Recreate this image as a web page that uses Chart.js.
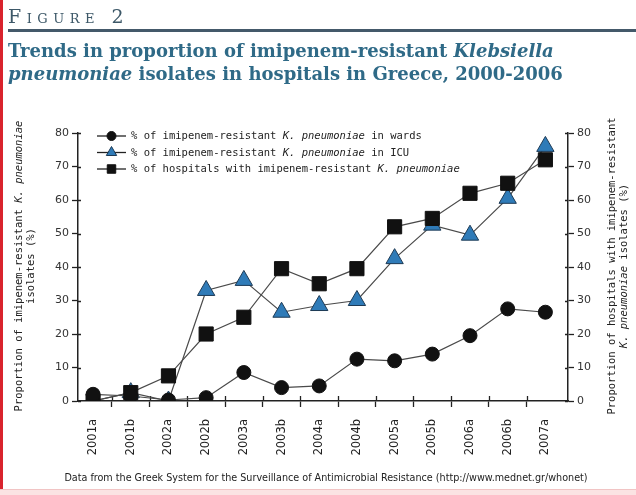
<!DOCTYPE html>
<html>
<head>
<meta charset="utf-8">
<script src="https://cdn.jsdelivr.net/npm/chart.js@4.4.0/dist/chart.umd.min.js"></script>
<style>
  html, body { margin: 0; padding: 0; background: #fff; }
  #page { position: relative; width: 636px; height: 495px; overflow: hidden; background: #fff; }
  #chart { position: absolute; left: 0; top: 0; }
  #redbar { position: absolute; left: 0; top: 0; width: 3px; height: 495px; background: #d9232d; }
  #band { position: absolute; left: 0; top: 489px; width: 636px; height: 6px; background: #fbe3e3; border-top: 1px solid #f1c4c4; }
  #fig { position: absolute; left: 8px; top: 5px; font-family: "DejaVu Serif", serif; font-size: 19px;
         font-variant: small-caps; letter-spacing: 5.5px; color: #3d5868; }
  #rule { position: absolute; left: 8px; right: 0; top: 29px; height: 3px; background: #44596a; }
  #title { position: absolute; left: 8px; top: 39px; font-family: "DejaVu Serif", serif; font-weight: bold;
           font-size: 18px; line-height: 23px; color: #2f6a87; white-space: nowrap; }
  #footer { position: absolute; left: 0; width: 652px; top: 471px; text-align: center;
            font-family: "DejaVu Sans Condensed", sans-serif; font-size: 10.7px; color: #222; }
</style>
</head>
<body>
<div id="page">
  <canvas id="chart" width="636" height="495"></canvas>
  <div id="redbar"></div>
  <div id="fig">Figure 2</div>
  <div id="rule"></div>
  <div id="title">Trends in proportion of imipenem-resistant <i>Klebsiella</i><br><i>pneumoniae</i> isolates in hospitals in Greece, 2000-2006</div>
  <div id="footer">Data from the Greek System for the Surveillance of Antimicrobial Resistance (http://www.mednet.gr/whonet)</div>
  <div id="band"></div>
</div>
<script>
// semesters
var periods = ["2001a", "2001b", "2002a", "2002b", "2003a", "2003b", "2004a",
               "2004b", "2005a", "2005b", "2006a", "2006b", "2007a"];
// % imipenem-resistant K. pneumoniae in wards
var wards = [2, 1.5, 0.3, 1, 8.5, 4, 4.5, 12.5, 12, 14, 19.5, 27.5, 26.5];
// % imipenem-resistant K. pneumoniae in ICU
var icu = [0, 2.5, 0, 33, 36, 26.5, 28.5, 30, 42.5, 52.5, 49.5, 60.5, 76];
// % of hospitals with imipenem-resistant K. pneumoniae
var hospitals = [0, 2.5, 7.5, 20, 25, 39.5, 35, 39.5, 52, 54.5, 62, 65, 72];
var yTicks = [0, 10, 20, 30, 40, 50, 60, 70, 80];

var AXIS = "#222";
var LINE = "#4a4a4a";
var BLUE = "#2f7bb8";
var MONO = '"DejaVu Sans Mono", monospace';

function pts(arr) {
    return arr.map(function(v, i) { return { x: i, y: v }; });
}

// ticks on both sides of the axis lines
var innerTicks = {
    id: "innerTicks",
    beforeDatasetsDraw: function(chart) {
        var ctx = chart.ctx, a = chart.chartArea, s = chart.scales;
        ctx.save();
        ctx.strokeStyle = AXIS;
        ctx.lineWidth = 1.3;
        ctx.beginPath();
        s.x.ticks.forEach(function(t) {
            if (Number.isInteger(t.value)) return;
            var px = Math.round(s.x.getPixelForValue(t.value)) + 0.5;
            ctx.moveTo(px, a.bottom);
            ctx.lineTo(px, a.bottom - 5);
        });
        s.y.ticks.forEach(function(t) {
            var py = Math.round(s.y.getPixelForValue(t.value)) + 0.5;
            ctx.moveTo(a.left, py);
            ctx.lineTo(a.left + 3, py);
            ctx.moveTo(a.right, py);
            ctx.lineTo(a.right - 3, py);
        });
        ctx.stroke();
        ctx.restore();
    }
};

// text made of plain and italic pieces
function pieces(ctx, parts, size) {
    return parts.map(function(p) {
        ctx.font = (p[1] ? "italic " : "") + size + "px " + MONO;
        return { text: p[0], font: ctx.font, w: ctx.measureText(p[0]).width };
    });
}
function drawParts(ctx, parts, size, x, y, centered) {
    var list = pieces(ctx, parts, size);
    var total = list.reduce(function(s, p) { return s + p.w; }, 0);
    var cx = centered ? x - total / 2 : x;
    list.forEach(function(p) {
        ctx.font = p.font;
        ctx.fillText(p.text, cx, y);
        cx += p.w;
    });
}

function marker(ctx, style, x, y, r, fill, stroke) {
    ctx.fillStyle = fill;
    ctx.strokeStyle = stroke;
    ctx.lineWidth = 1;
    Chart.helpers.drawPoint(ctx, { pointStyle: style, radius: r, rotation: 0, borderWidth: 1 }, x, y);
}

var legendRows = [
    { style: "circle", r: 4.5, fill: "#111", stroke: "#111",
      parts: [["% of imipenem-resistant ", 0], ["K. pneumoniae", 1], [" in wards", 0]] },
    { style: "triangle", r: 6, fill: BLUE, stroke: "#1d3a55",
      parts: [["% of imipenem-resistant ", 0], ["K. pneumoniae", 1], [" in ICU", 0]] },
    { style: "rect", r: 6, fill: "#111", stroke: "#111",
      parts: [["% of hospitals with imipenem-resistant ", 0], ["K. pneumoniae", 1]] }
];

var textLayer = {
    id: "textLayer",
    afterDraw: function(chart) {
        var ctx = chart.ctx;
        ctx.save();
        ctx.fillStyle = "#222";
        ctx.textBaseline = "middle";
        legendRows.forEach(function(row, i) {
            var y = 136 + i * 16.5;
            ctx.strokeStyle = "#222";
            ctx.lineWidth = 1.3;
            ctx.beginPath();
            ctx.moveTo(97, y);
            ctx.lineTo(126, y);
            ctx.stroke();
            marker(ctx, row.style, 111.5, y, row.r, row.fill, row.stroke);
            ctx.fillStyle = "#222";
            drawParts(ctx, row.parts, 10.5, 131, y + 0.5, false);
        });

        // axis titles, read bottom to top
        var titles = [
            { x: 19, lines: [[["Proportion of imipenem-resistant ", 0], ["K. pneumoniae", 1]],
                             [["isolates (%)", 0]]] },
            { x: 612, lines: [[["Proportion of hospitals with imipenem-resistant", 0]],
                              [["K. pneumoniae", 1], [" isolates (%)", 0]]] }
        ];
        titles.forEach(function(t) {
            t.lines.forEach(function(line, j) {
                ctx.save();
                ctx.translate(t.x + j * 12.5, 266);
                ctx.rotate(-Math.PI / 2);
                drawParts(ctx, line, 10.5, 0, 0, true);
                ctx.restore();
            });
        });
        ctx.restore();
    }
};

function yAxis(pos, width) {
    return {
        type: "linear",
        position: pos,
        min: 0,
        max: 80,
        afterBuildTicks: function(scale) {
            scale.ticks = yTicks.map(function(v) { return { value: v }; });
        },
        afterFit: function(scale) { scale.width = width; },
        border: { display: true, color: AXIS, width: 1.5 },
        grid: { drawOnChartArea: false, drawTicks: true, tickLength: 6, tickColor: AXIS, tickWidth: 1.3 },
        ticks: { color: "#333", padding: 3, font: { family: "DejaVu Sans", size: 11 } }
    };
}

var ctx = document.getElementById("chart").getContext("2d");
var myChart = new Chart(ctx, {
    type: "line",
    data: {
        datasets: [
            {
                label: "% of imipenem-resistant K. pneumoniae in wards",
                data: pts(wards),
                order: 0,
                borderColor: LINE,
                borderWidth: 1.2,
                pointStyle: "circle",
                pointRadius: 7,
                pointBackgroundColor: "#111",
                pointBorderColor: "#111",
                pointBorderWidth: 1
            },
            {
                label: "% of hospitals with imipenem-resistant K. pneumoniae",
                data: pts(hospitals),
                order: 1,
                borderColor: LINE,
                borderWidth: 1.2,
                pointStyle: "rect",
                pointRadius: 10,
                pointBackgroundColor: "#111",
                pointBorderColor: "#111",
                pointBorderWidth: 1
            },
            {
                label: "% of imipenem-resistant K. pneumoniae in ICU",
                data: pts(icu),
                order: 2,
                borderColor: LINE,
                borderWidth: 1.2,
                pointStyle: "triangle",
                pointRadius: 10,
                pointBackgroundColor: BLUE,
                pointBorderColor: "#1d3a55",
                pointBorderWidth: 1
            }
        ]
    },
    options: {
        responsive: false,
        animation: false,
        layout: { padding: { top: 133, bottom: 34, left: 0, right: 0 } },
        plugins: { legend: { display: false }, tooltip: { enabled: false } },
        elements: { line: { tension: 0 } },
        scales: {
            x: {
                type: "linear",
                position: "bottom",
                min: -0.4,
                max: 12.6,
                afterBuildTicks: function(scale) {
                    var t = [];
                    for (var i = 0; i < periods.length; i++) {
                        t.push({ value: i });
                        if (i < periods.length - 1) t.push({ value: i + 0.5 });
                    }
                    scale.ticks = t;
                },
                afterFit: function(scale) { scale.height = 60; },
                border: { display: true, color: AXIS, width: 1.5 },
                grid: {
                    drawOnChartArea: false,
                    tickLength: 6,
                    tickWidth: 1.3,
                    tickColor: function(c) {
                        return Number.isInteger(c.tick.value) ? "rgba(0,0,0,0)" : AXIS;
                    }
                },
                ticks: {
                    autoSkip: false,
                    maxRotation: 90,
                    minRotation: 90,
                    padding: 12,
                    color: "#222",
                    font: { family: "DejaVu Sans", size: 11.5 },
                    callback: function(v) {
                        return Number.isInteger(v) ? periods[v] : "";
                    }
                }
            },
            y: yAxis("left", 78),
            y2: yAxis("right", 68)
        }
    },
    plugins: [innerTicks, textLayer]
});
</script>
</body>
</html>
